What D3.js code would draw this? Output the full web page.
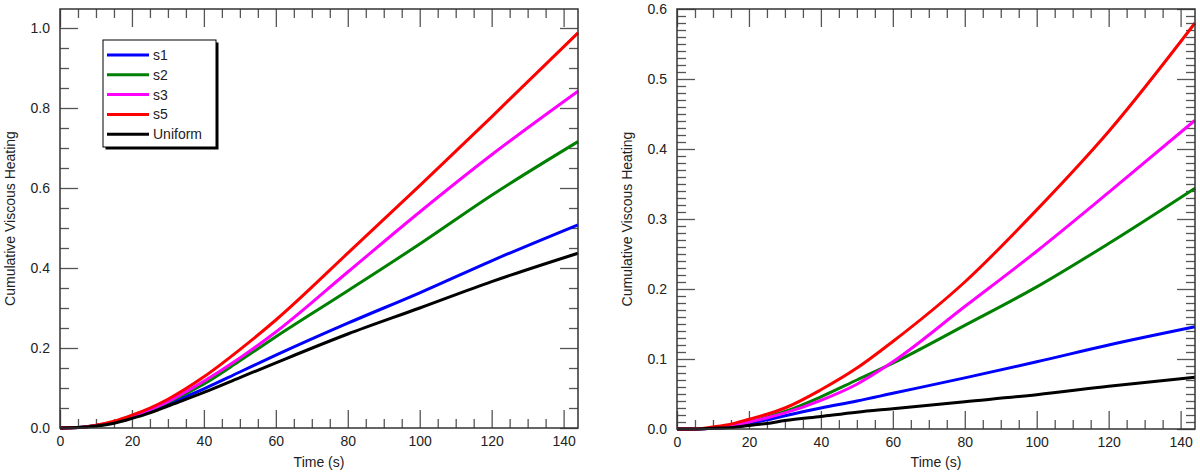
<!DOCTYPE html>
<html>
<head>
<meta charset="utf-8">
<script src="https://d3js.org/d3.v7.min.js"></script>
<style>
  body { margin: 0; background: #fff; }
  text { font-family: "Liberation Sans", Arial, sans-serif; fill: #222; }
</style>
</head>
<body>
<svg id="plot" width="1200" height="475"></svg>
<script>
// sample times (s)
var times = [0, 5, 10, 15, 20, 25, 30, 40, 50, 60, 80, 100, 120, 144];

var seriesNames = ["s1", "s2", "s3", "s5", "Uniform"];
var seriesColors = ["#0000ff", "#008000", "#ff00ff", "#ff0000", "#000000"];

// left panel
var leftS1 = [0, 0.001, 0.006, 0.014, 0.027, 0.042, 0.060, 0.098, 0.140, 0.182, 0.262, 0.338, 0.418, 0.508];
var leftS2 = [0, 0.001, 0.006, 0.015, 0.028, 0.045, 0.064, 0.110, 0.168, 0.228, 0.343, 0.460, 0.582, 0.716];
var leftS3 = [0, 0.001, 0.006, 0.015, 0.029, 0.046, 0.066, 0.117, 0.175, 0.240, 0.390, 0.540, 0.683, 0.842];
var leftS5 = [0, 0.001, 0.007, 0.017, 0.032, 0.050, 0.072, 0.128, 0.196, 0.270, 0.437, 0.606, 0.778, 0.988];
var leftUni = [0, 0.001, 0.005, 0.012, 0.024, 0.038, 0.055, 0.089, 0.126, 0.163, 0.235, 0.300, 0.366, 0.437];

// right panel
var rightS1 = [0, 0, 0.001, 0.003, 0.008, 0.013, 0.019, 0.030, 0.040, 0.051, 0.073, 0.096, 0.120, 0.146];
var rightS2 = [0, 0, 0.001, 0.004, 0.010, 0.017, 0.025, 0.046, 0.070, 0.094, 0.148, 0.203, 0.265, 0.344];
var rightS3 = [0, 0, 0.001, 0.004, 0.010, 0.016, 0.023, 0.041, 0.064, 0.096, 0.175, 0.254, 0.338, 0.441];
var rightS5 = [0, 0, 0.003, 0.007, 0.014, 0.021, 0.030, 0.056, 0.087, 0.125, 0.210, 0.313, 0.425, 0.580];
var rightUni = [0, 0, 0.001, 0.002, 0.005, 0.008, 0.012, 0.018, 0.024, 0.029, 0.039, 0.049, 0.061, 0.074];

var xMajor = [0, 20, 40, 60, 80, 100, 120, 140];
var leftYMajor = [0, 0.2, 0.4, 0.6, 0.8, 1.0];
var rightYMajor = [0, 0.1, 0.2, 0.3, 0.4, 0.5, 0.6];

var svg = d3.select('#plot');

function drawPanel(cfg) {
  var x = d3.scaleLinear().domain([0, 144]).range([cfg.left, cfg.right]);
  var y = d3.scaleLinear().domain([0, cfg.ymax]).range([cfg.bottom, cfg.top]);
  var g = svg.append('g');

  var xMinor = d3.range(0, 145, 5).filter(v => v % 20 != 0);
  var yMinor = d3.range(0, cfg.ymax + 1e-9, cfg.yMinorStep)
    .map(v => +v.toFixed(3))
    .filter(v => !cfg.yMajor.some(m => Math.abs(m - v) < 1e-6));

  function styleAxis(sel) {
    sel.select('.domain').remove();
    sel.selectAll('line').attr('stroke', '#555').attr('stroke-width', 1.3);
    sel.selectAll('text').attr('font-size', 14).attr('fill', '#222')
      .attr('font-family', '"Liberation Sans", Arial, sans-serif');
  }

  // bottom
  g.append('g').attr('transform', 'translate(0,' + cfg.bottom + ')')
    .call(d3.axisBottom(x).tickValues(xMajor).tickSize(-18).tickPadding(8).tickFormat(d3.format('d')))
    .call(styleAxis);
  g.append('g').attr('transform', 'translate(0,' + cfg.bottom + ')')
    .call(d3.axisBottom(x).tickValues(xMinor).tickSize(-9).tickFormat(''))
    .call(styleAxis);
  // top
  g.append('g').attr('transform', 'translate(0,' + cfg.top + ')')
    .call(d3.axisTop(x).tickValues(xMajor).tickSize(-18).tickFormat(''))
    .call(styleAxis);
  g.append('g').attr('transform', 'translate(0,' + cfg.top + ')')
    .call(d3.axisTop(x).tickValues(xMinor).tickSize(-9).tickFormat(''))
    .call(styleAxis);
  // left
  g.append('g').attr('transform', 'translate(' + cfg.left + ',0)')
    .call(d3.axisLeft(y).tickValues(cfg.yMajor).tickSize(-18).tickPadding(10).tickFormat(d3.format('.1f')))
    .call(styleAxis);
  g.append('g').attr('transform', 'translate(' + cfg.left + ',0)')
    .call(d3.axisLeft(y).tickValues(yMinor).tickSize(-9).tickFormat(''))
    .call(styleAxis);
  // right
  g.append('g').attr('transform', 'translate(' + cfg.right + ',0)')
    .call(d3.axisRight(y).tickValues(cfg.yMajor).tickSize(-18).tickFormat(''))
    .call(styleAxis);
  g.append('g').attr('transform', 'translate(' + cfg.right + ',0)')
    .call(d3.axisRight(y).tickValues(yMinor).tickSize(-9).tickFormat(''))
    .call(styleAxis);

  // data lines
  var line = d3.line()
    .x((d, i) => x(times[i]))
    .y(d => y(d))
    .curve(d3.curveMonotoneX);

  g.selectAll('path.series')
    .data(cfg.series)
    .join('path')
    .attr('class', 'series')
    .attr('d', d => line(d))
    .attr('fill', 'none')
    .attr('stroke', (d, i) => seriesColors[i])
    .attr('stroke-width', 3);

  // frame
  g.append('rect')
    .attr('x', cfg.left).attr('y', cfg.top)
    .attr('width', cfg.right - cfg.left).attr('height', cfg.bottom - cfg.top)
    .attr('fill', 'none').attr('stroke', '#333').attr('stroke-width', 1.5);

  // axis titles
  g.append('text')
    .attr('x', (cfg.left + cfg.right) / 2).attr('y', 467)
    .attr('text-anchor', 'middle').attr('font-size', 14)
    .text('Time (s)');
  g.append('text')
    .attr('transform', 'translate(' + cfg.titleX + ',' + ((cfg.top + cfg.bottom) / 2) + ') rotate(-90)')
    .attr('text-anchor', 'middle').attr('font-size', 14)
    .text('Cumulative Viscous Heating');

  return { g: g, x: x, y: y };
}

drawPanel({
  left: 60, right: 578, top: 9, bottom: 428, ymax: 1.0475,
  yMajor: leftYMajor, yMinorStep: 0.05, titleX: 15,
  series: [leftS1, leftS2, leftS3, leftS5, leftUni]
});

drawPanel({
  left: 677, right: 1195, top: 9, bottom: 429, ymax: 0.6,
  yMajor: rightYMajor, yMinorStep: 0.01, titleX: 632,
  series: [rightS1, rightS2, rightS3, rightS5, rightUni]
});

// legend in left panel
var legend = svg.append('g').attr('transform', 'translate(103,40)');
legend.append('rect').attr('x', 2.5).attr('y', 2.5).attr('width', 113).attr('height', 107)
  .attr('fill', '#000');
legend.append('rect').attr('x', 0).attr('y', 0).attr('width', 113).attr('height', 107)
  .attr('fill', '#fff').attr('stroke', '#000').attr('stroke-width', 1);
var rows = legend.selectAll('g.row')
  .data(seriesNames)
  .join('g')
  .attr('class', 'row')
  .attr('transform', (d, i) => 'translate(0,' + (15 + i * 19.8) + ')');
rows.append('line')
  .attr('x1', 4).attr('x2', 46).attr('y1', 0).attr('y2', 0)
  .attr('stroke', (d, i) => seriesColors[i]).attr('stroke-width', 3);
rows.append('text')
  .attr('x', 50).attr('y', 5).attr('font-size', 14)
  .text(d => d);
</script>
</body>
</html>
